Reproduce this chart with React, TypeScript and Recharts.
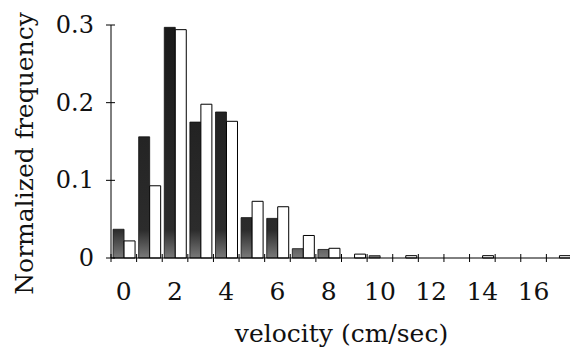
import { Bar, BarChart, XAxis, YAxis } from 'recharts'

// velocity bins (cm/sec), one per integer
const velocity = [0, 1, 2, 3, 4, 5, 6, 7, 8, 9, 10, 11, 12, 13, 14, 15, 16, 17]
// dark (stippled) bars
const darkFreq = [0.037, 0.156, 0.297, 0.175, 0.188, 0.052, 0.051, 0.012, 0.011, 0, 0.003, 0, 0, 0, 0, 0, 0, 0]
// white (outlined) bars
const whiteFreq = [0.022, 0.093, 0.294, 0.198, 0.176, 0.073, 0.066, 0.029, 0.0125, 0.005, 0, 0.003, 0, 0, 0.003, 0, 0, 0.003]
const yTicks = [0, 0.1, 0.2, 0.3]

const W = 575
const H = 350
const PLOT_LEFT = 111
const PLOT_RIGHT = 572
const PLOT_TOP = 25
const PLOT_BOTTOM = 258
const BAND = (PLOT_RIGHT - PLOT_LEFT) / velocity.length
// only serif face available in the sandbox
const FONT = 'DejaVu Serif'

const data = velocity.map((v, i) => ({ v, dark: darkFreq[i], white: whiteFreq[i] }))

const XTick = (props: any) => {
  const { x, y, payload, index } = props
  const left = x - BAND / 2
  return (
    <g>
      <line x1={left} x2={left} y1={y - 4} y2={y + 4} stroke="#000" strokeWidth={1} />
      {index === velocity.length - 1 && (
        <line x1={x + BAND / 2} x2={x + BAND / 2} y1={y - 4} y2={y + 4} stroke="#000" strokeWidth={1} />
      )}
      {payload.value % 2 === 0 && (
        <text x={x} y={y + 42} textAnchor="middle" fontFamily={FONT} fontSize={25} fill="#111">
          {payload.value}
        </text>
      )}
    </g>
  )
}

const YTick = (props: any) => {
  const { x, y, payload } = props
  return (
    <g>
      <line x1={x - 5} x2={x + 4} y1={y} y2={y} stroke="#000" strokeWidth={1} />
      <text x={x - 17} y={y + 8} textAnchor="end" fontFamily={FONT} fontSize={24} fill="#111">
        {payload.value === 0 ? '0' : payload.value.toFixed(1)}
      </text>
    </g>
  )
}

const YLabel = (props: any) => {
  const { viewBox } = props
  const cx = viewBox.x + 33
  const cy = viewBox.y + viewBox.height / 2 + 12
  return (
    <text x={cx} y={cy} transform={`rotate(-90 ${cx} ${cy})`} textAnchor="middle" fontFamily={FONT} fontSize={25} fill="#111">
      Normalized frequency
    </text>
  )
}

const XLabel = (props: any) => {
  const { viewBox } = props
  return (
    <text x={viewBox.x + viewBox.width / 2} y={viewBox.y + 84} textAnchor="middle" fontFamily={FONT} fontSize={25} fill="#111">
      velocity (cm/sec)
    </text>
  )
}

export default function App() {
  return (
    <div style={{ width: W, height: H, background: '#fff' }}>
      <style>{'body{margin:0;overflow:hidden;background:#fff}'}</style>
      <BarChart
        width={W}
        height={H}
        data={data}
        margin={{ top: PLOT_TOP, right: W - PLOT_RIGHT, left: 0, bottom: 0 }}
        barCategoryGap="8%"
        barGap={0}
      >
        <defs>
          <linearGradient id="stipple" gradientUnits="userSpaceOnUse" x1="0" y1={PLOT_TOP} x2="0" y2={PLOT_BOTTOM}>
            <stop offset="0" stopColor="#1a1a1a" />
            <stop offset="0.88" stopColor="#2c2c2c" />
            <stop offset="1" stopColor="#7a7a7a" />
          </linearGradient>
        </defs>
        <XAxis
          dataKey="v"
          height={H - PLOT_BOTTOM}
          interval={0}
          tickLine={false}
          tickSize={0}
          tickMargin={0}
          tick={<XTick />}
          axisLine={{ stroke: '#000', strokeWidth: 1 }}
          label={<XLabel />}
        />
        <YAxis
          width={PLOT_LEFT}
          domain={[0, 0.3]}
          ticks={yTicks}
          tickLine={false}
          tickSize={0}
          tickMargin={0}
          tick={<YTick />}
          axisLine={{ stroke: '#000', strokeWidth: 1 }}
          label={<YLabel />}
        />
        <Bar dataKey="dark" fill="url(#stipple)" stroke="#111" strokeWidth={0.8} isAnimationActive={false} />
        <Bar dataKey="white" fill="#fff" stroke="#000" strokeWidth={1} isAnimationActive={false} />
      </BarChart>
    </div>
  )
}
